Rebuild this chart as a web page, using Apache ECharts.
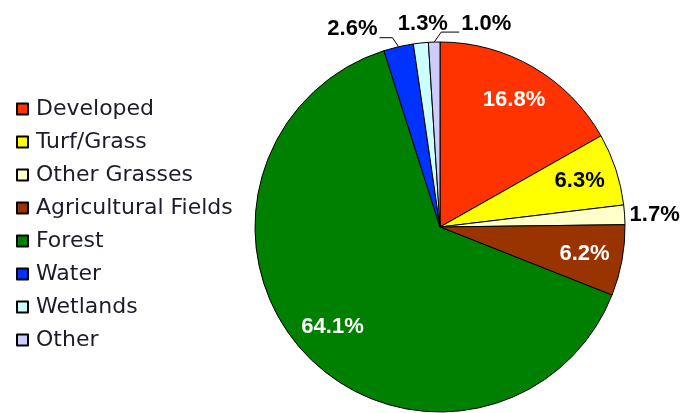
<!DOCTYPE html>
<html>
<head>
<meta charset="utf-8">
<script src="https://cdn.jsdelivr.net/npm/echarts@6/dist/echarts.min.js"></script>
<style>
  html, body { margin: 0; padding: 0; background: #fff; }
  #chart { width: 690px; height: 413px; }
</style>
</head>
<body>
<div id="chart"></div>
<script>
const categories = ['Developed', 'Turf/Grass', 'Other Grasses', 'Agricultural Fields', 'Forest', 'Water', 'Wetlands', 'Other']
const shares     = [16.8, 6.3, 1.7, 6.2, 64.1, 2.6, 1.3, 1.0]
const colors     = ['#ff3300', '#ffff00', '#ffffcc', '#993300', '#008000', '#0033ff', '#ccffff', '#ccccff']

const CX = 440, CY = 227, R = 185
const LABEL_FONT = { fontFamily: '"Liberation Sans", Arial, sans-serif', fontWeight: 'bold', fontSize: 22 }

// label style per slice: inside (white/black) or outside
const insideColor = { 'Developed': '#fff', 'Turf/Grass': '#000', 'Agricultural Fields': '#fff', 'Forest': '#fff' }

function labelFor(name) {
  if (insideColor[name]) {
    return { label: { position: 'inside', color: insideColor[name] }, labelLine: { show: false } }
  }
  return { label: { position: 'outside', color: '#000' }, labelLine: { show: true } }
}

// nudges outside labels the way the original leaders sit
function placeLabel(p) {
  const name = categories[p.dataIndex]
  const pts = p.labelLinePoints
  if (!pts || insideColor[name]) return {}
  const [x0, y0] = pts[0]
  if (name === 'Water') {
    return { x: x0 - 21, y: y0 - 18, align: 'right', verticalAlign: 'middle',
      labelLinePoints: [[x0, y0], [x0 - 6, y0 - 9], [x0 - 19, y0 - 9]] }
  }
  if (name === 'Wetlands') {
    return { x: x0 + 2, y: y0 - 19, align: 'center', verticalAlign: 'middle',
      labelLinePoints: [[x0, y0], [x0, y0]] }
  }
  if (name === 'Other') {
    return { x: x0 + 27, y: y0 - 18, align: 'left', verticalAlign: 'middle',
      labelLinePoints: [[x0, y0], [x0 + 7, y0 - 10], [x0 + 25, y0 - 10]] }
  }
  if (name === 'Other Grasses') {
    return { x: x0 + 5, y: y0, align: 'left', verticalAlign: 'middle',
      labelLinePoints: [[x0, y0], [x0, y0]] }
  }
  return {}
}

const chart = echarts.init(document.getElementById('chart'), null, { renderer: 'canvas' })

chart.setOption({
  backgroundColor: '#fff',
  animation: false,
  color: colors,
  legend: {
    orient: 'vertical', left: 11, top: 93,
    icon: 'rect', itemWidth: 11, itemHeight: 11, itemGap: 11,
    data: categories,
    textStyle: { fontFamily: '"DejaVu Sans", Verdana, sans-serif', fontSize: 22, lineHeight: 22,
      color: '#1c1c2a', padding: [0, 0, 0, 3] },
  },
  series: [
    { // the pie itself
      type: 'pie', center: [CX, CY], radius: [0, R], startAngle: 90, clockwise: true,
      silent: true, avoidLabelOverlap: false,
      itemStyle: { borderColor: '#000', borderWidth: 1 },
      label: { show: false }, labelLine: { show: false },
      data: categories.map((n, i) => ({ name: n, value: shares[i] })),
    },
    { // transparent ring that carries the labels at ~0.78 R
      type: 'pie', center: [CX, CY], radius: [103, R], startAngle: 90, clockwise: true,
      silent: true, avoidLabelOverlap: false,
      itemStyle: { color: 'rgba(0,0,0,0)', borderWidth: 0 },
      label: { show: true, ...LABEL_FONT, formatter: p => p.value.toFixed(1) + '%' },
      labelLine: { length: 8, length2: 12, lineStyle: { color: '#000', width: 1 } },
      labelLayout: placeLabel,
      data: categories.map((n, i) => ({ name: n, value: shares[i], ...labelFor(n) })),
    },
  ],
})
</script>
</body>
</html>
